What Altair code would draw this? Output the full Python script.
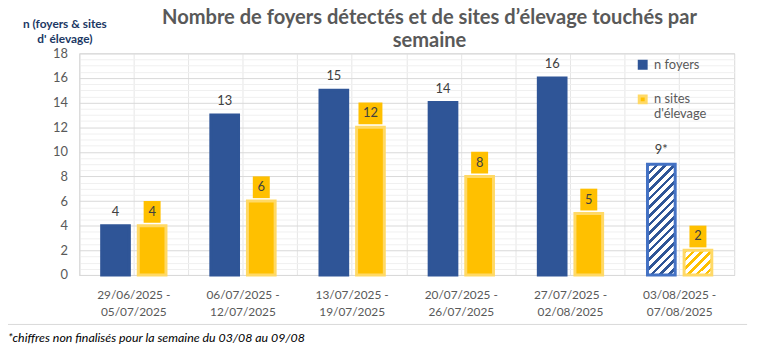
import altair as alt
import pandas as pd

# ---------------- data ----------------
weeks = [
    "29/06/2025 - 05/07/2025",
    "06/07/2025 - 12/07/2025",
    "13/07/2025 - 19/07/2025",
    "20/07/2025 - 26/07/2025",
    "27/07/2025 - 02/08/2025",
    "03/08/2025 - 07/08/2025",
]
foyers = [4, 13, 15, 14, 16, 9]
sites = [4, 6, 12, 8, 5, 2]
provisional = [False, False, False, False, False, True]
series_names = ["n foyers", "n sites d'élevage"]
y_ticks = [0, 2, 4, 6, 8, 10, 12, 14, 16, 18]
title_lines = ["Nombre de foyers détectés et de sites d\u2019élevage touchés par", "semaine"]
y_title = ["n (foyers & sites", "d' élevage)"]
footnote = "*chiffres non finalisés pour la semaine du 03/08 au 09/08"

rows = []
for w, f, s, p in zip(weeks, foyers, sites, provisional):
    rows.append({"week": w, "series": series_names[0], "value": f, "prov": p,
                 "label": str(f) + ("*" if p else "")})
    rows.append({"week": w, "series": series_names[1], "value": s, "prov": p,
                 "label": str(s)})
df = pd.DataFrame(rows)

# ---------------- layout constants ----------------
PLOT_W, PLOT_H = 662, 224
Y_MAX = 18
BAND = 28
PX_PER_UNIT = PLOT_H / Y_MAX
minor_ticks = [v / 2 for v in range(0, 37) if v % 4]

FONT = "Lato"
GRAY = "#595959"
BLUE = "#2F5597"
BLUE_EDGE = "#4472C4"
YELLOW = "#FFC000"
YELLOW_EDGE = "#FFD966"


def hatch(fg, bg, value, period=8.5, frac=0.42):
    W = BAND
    H = value * PX_PER_UNIT
    r = H / W
    vx = (1 + r) / (1 + r * r)
    vy = r * vx
    n = max(1, round((W + H) / period))
    stops = []
    for k in range(n):
        a = k / n
        b = (k + frac) / n
        c = (k + 1) / n
        stops += [
            alt.GradientStop(offset=a, color=fg),
            alt.GradientStop(offset=b, color=fg),
            alt.GradientStop(offset=b, color=bg),
            alt.GradientStop(offset=c, color=bg),
        ]
    return alt.Gradient(gradient="linear", stops=stops, x1=0, y1=0, x2=vx, y2=vy)


base = alt.Chart(df)

x_scale = alt.Scale(domain=weeks, paddingInner=0, paddingOuter=0)
xoff_scale = alt.Scale(domain=series_names, paddingInner=0.243, paddingOuter=0.6125)
y_scale = alt.Scale(domain=[0, Y_MAX], nice=False, zero=True)

xoff = alt.XOffset("series:N", scale=xoff_scale)


def xenc(axis=None):
    return alt.X("week:N", scale=x_scale, sort=weeks, axis=axis)


def yenc(axis=None):
    return alt.Y("value:Q", scale=y_scale, axis=axis)


# grid helper layer (minor horizontal grid + vertical grid at band edges)
grid_layer = base.mark_point(opacity=0).encode(
    x=xenc(alt.Axis(orient="bottom", bandPosition=0, grid=True, gridColor="#E6E6E6",
                    labels=False, ticks=False, domain=False, title=None)),
    y=yenc(alt.Axis(orient="left", values=minor_ticks, grid=True, gridColor="#F0F0F0",
                    labels=False, ticks=False, domain=False, title=None)),
    xOffset=xoff,
)

legend = alt.Legend(
    title=None, orient="none", legendX=563, legendY=5,
    symbolType="square", symbolSize=49, symbolStrokeWidth=3,
    labelFont=FONT, labelFontSize=13, labelColor=GRAY, labelOffset=5,
    labelExpr="datum.label == 'n foyers' ? 'n foyers' : ['n sites', \"d'élevage\"]",
    rowPadding=16, padding=0,
)

bars = base.transform_filter("!datum.prov").mark_bar(strokeWidth=3).encode(
    x=xenc(alt.Axis(
        orient="bottom", title=None, labelAngle=0, ticks=False, grid=True,
        gridColor="#E6E6E6", domainColor="#D9D9D9",
        labelExpr="[slice(datum.label, 0, 12), slice(datum.label, 13)]",
        labelFont=FONT, labelFontSize=12, labelColor=GRAY, labelPadding=15,
        labelLineHeight=17, labelBaseline="top")),
    y=yenc(alt.Axis(
        orient="left", values=y_ticks, grid=True, gridColor="#D9D9D9", ticks=False,
        domainColor="#D9D9D9", labelFont=FONT, labelFontSize=13, labelColor=GRAY,
        labelPadding=12, title=y_title, titleAngle=0, titleX=-15, titleY=-26,
        titleAlign="center", titleBaseline="alphabetic", titleFont=FONT,
        titleFontSize=12, titleFontWeight="bold", titleColor="#203864",
        titleLineHeight=15)),
    xOffset=xoff,
    fill=alt.Fill("series:N", scale=alt.Scale(domain=series_names, range=[BLUE, YELLOW]),
                  legend=legend),
    stroke=alt.Stroke("series:N", scale=alt.Scale(domain=series_names, range=[BLUE, YELLOW_EDGE]),
                      legend=legend),
)

prov_f = df[(df.prov) & (df.series == series_names[0])]["value"].iloc[0]
prov_s = df[(df.prov) & (df.series == series_names[1])]["value"].iloc[0]

hatch_blue = base.transform_filter(
    f"datum.prov && datum.series == '{series_names[0]}'"
).mark_bar(fill=hatch(BLUE, "#FFFFFF", prov_f), stroke=BLUE_EDGE, strokeWidth=3).encode(
    x=xenc(), y=yenc(), xOffset=xoff)

hatch_yellow = base.transform_filter(
    "datum.prov && datum.series == \"n sites d'élevage\""
).mark_bar(fill=hatch(YELLOW, "#FFFFFF", prov_s), stroke=YELLOW_EDGE, strokeWidth=3).encode(
    x=xenc(), y=yenc(), xOffset=xoff)

box_narrow = "M-0.78,-1 L0.78,-1 L0.78,1 L-0.78,1 Z"
box_wide = "M-1.1,-1 L1.1,-1 L1.1,1 L-1.1,1 Z"

boxes = base.transform_filter(
    "datum.series == \"n sites d'élevage\""
).transform_calculate(boxw="'w' + length(datum.label)").mark_point(
    filled=True, fill=YELLOW, opacity=1, strokeWidth=0, size=484, yOffset=-14
).encode(
    x=xenc(), y=yenc(), xOffset=xoff,
    shape=alt.Shape("boxw:N", scale=alt.Scale(domain=["w1", "w2"], range=[box_narrow, box_wide]),
                    legend=None),
)

labels = base.mark_text(dy=-14, baseline="middle", font=FONT, fontSize=13, color="#404040").encode(
    x=xenc(), y=yenc(), xOffset=xoff, text="label:N")

note_df = pd.DataFrame({"t": [footnote]})
sep_rule = alt.Chart(note_df).mark_rule(color="#D9D9D9", strokeWidth=1).encode(
    x=alt.value(-72), x2=alt.value(675), y=alt.value(274))
note = alt.Chart(note_df).mark_text(
    align="left", baseline="middle", font=FONT, fontSize=12.5, fontStyle="italic", color="#000000"
).encode(x=alt.value(-72), y=alt.value(288), text="t:N")

chart = alt.layer(
    grid_layer, bars, hatch_blue, hatch_yellow, boxes, labels, sep_rule, note
).resolve_axis(x="independent", y="independent").properties(
    width=PLOT_W, height=PLOT_H,
    autosize=alt.AutoSizeParams(type="none"),
    padding={"left": 72, "top": 44, "right": 21, "bottom": 76},
    title=alt.TitleParams(
        text=title_lines, font=FONT, fontSize=20.3, fontWeight="bold", color=GRAY,
        anchor="middle", frame="group", dx=23, dy=38, offset=4, lineHeight=23,
    ),
).configure_view(stroke="#D9D9D9")

chart.save("out.html", embed_options={"renderer": "svg", "actions": False})
